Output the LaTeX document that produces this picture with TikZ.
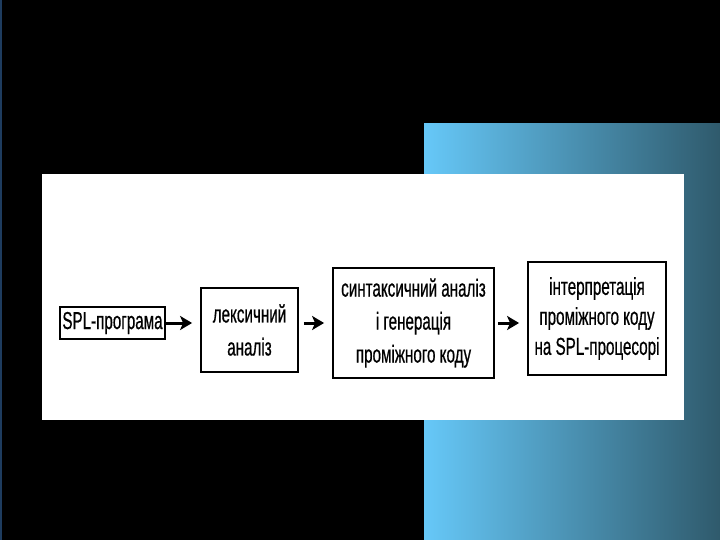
\documentclass[tikz,border=0pt]{standalone}
\usepackage{fontspec}
\usetikzlibrary{arrows.meta}
\newfontfamily\narrowsans[FakeStretch=0.62,FakeBold=0.6]{Liberation Sans}
\definecolor{gradL}{RGB}{102,200,248}
\definecolor{gradR}{RGB}{47,90,108}
\definecolor{edgeblue}{RGB}{30,60,95}
\tikzset{
  stagebox/.style={draw=black, line width=1.8pt, fill=white, inner sep=0pt, align=center, text=black},
  flowarrow/.style={line width=3pt, -{Stealth[length=12pt,width=14pt,inset=3pt]}},
}
\begin{document}
\begin{tikzpicture}[x=1pt,y=-1pt]
  \useasboundingbox (0,0) rectangle (720,540);
  \fill[black] (0,0) rectangle (720,540);
  \fill[edgeblue] (0,0) rectangle (1.5,540);
  \shade[left color=gradL, right color=gradR] (424,124) rectangle (720,540);
  \fill[white] (42,174) rectangle (684,420);

  \node[stagebox, minimum width=105pt, minimum height=32pt,
        font=\narrowsans\fontsize{24.5}{33}\selectfont] (spl) at (112.5,323) {SPL-програма};
  \node[stagebox, minimum width=97pt, minimum height=84pt,
        font=\narrowsans\fontsize{24.5}{33}\selectfont] (lex) at (249.5,330) {лексичний\\аналіз};
  \node[stagebox, minimum width=161pt, minimum height=110pt,
        font=\narrowsans\fontsize{24.5}{33}\selectfont] (syn) at (413.5,323) {синтаксичний аналіз\\і генерація\\проміжного коду};
  \node[stagebox, minimum width=138pt, minimum height=113pt,
        font=\narrowsans\fontsize{24.5}{30}\selectfont] (int) at (597,318.5) {інтерпретація\\проміжного коду\\на SPL-процесорі};

  \draw[flowarrow, shorten >=8pt] (spl.east) -- (spl.east -| lex.west);
  \draw[flowarrow, shorten <=5pt, shorten >=8pt] (lex.east |- spl.east) -- (spl.east -| syn.west);
  \draw[flowarrow, shorten <=3pt, shorten >=8pt] (syn.east |- spl.east) -- (spl.east -| int.west);
\end{tikzpicture}
\end{document}
